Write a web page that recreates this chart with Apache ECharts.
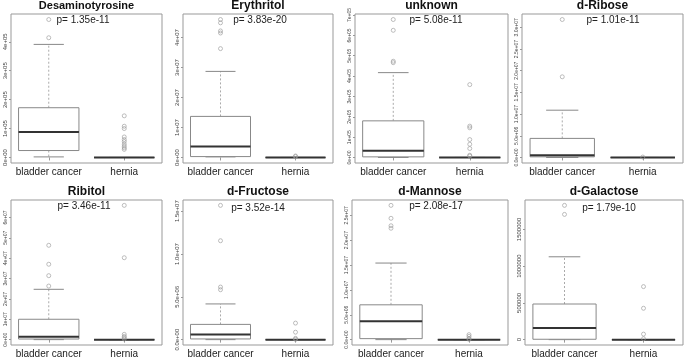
<!DOCTYPE html>
<html>
<head>
<meta charset="utf-8">
<script src="https://cdn.jsdelivr.net/npm/echarts@6/dist/echarts.min.js"></script>
<style>
  html, body { margin: 0; padding: 0; background: #fff; }
  #chart { width: 685px; height: 359px; }
</style>
</head>
<body>
<div id="chart"></div>
<script>
// data
const groups = ['bladder cancer', 'hernia']
const names = ['Desaminotyrosine', 'Erythritol', 'unknown', 'd-Ribose', 'Ribitol', 'd-Fructose', 'd-Mannose', 'd-Galactose']
const pValues = ['1.35e-11', '3.83e-20', '5.08e-11', '1.01e-11', '3.46e-11', '3.52e-14', '2.08e-17', '1.79e-10']

// [min, Q1, median, Q3, max]
const cancerBoxes = [
  [2e3, 0.24e5, 0.88e5, 1.72e5, 3.91e5],
  [0.02e7, 0.03e7, 0.37e7, 1.37e7, 2.87e7],
  [0, 0.03e5, 0.33e5, 1.8e5, 4.17e5],
  [0, 0.015e7, 0.054e7, 0.44e7, 1.09e7],
  [0, 0.03e7, 0.14e7, 1.0e7, 2.47e7],
  [0, 0.008e7, 0.06e7, 0.178e7, 0.417e7],
  [0, 0.02e7, 0.37e7, 0.7e7, 1.54e7],
  [0, 5e3, 1.59e5, 4.85e5, 1.128e6]
]
const herniaBoxes = [
  [0, 0, 0, 0, 0],
  [0, 0, 0, 0, 0],
  [0, 0, 0, 0, 0],
  [0, 0, 0, 0, 0],
  [0, 0, 0, 0, 0],
  [0, 0, 0, 0, 0],
  [0, 0, 0, 0, 0],
  [0, 0, 0, 0, 0]
]
const cancerOutliers = [
  [4.14e5, 4.77e5],
  [3.63e7, 4.15e7, 4.22e7, 4.49e7, 4.6e7],
  [4.66e5, 4.73e5, 6.25e5, 6.78e5],
  [1.86e7, 3.18e7],
  [2.63e7, 3.14e7, 3.7e7, 4.63e7],
  [0.583e7, 0.614e7, 1.155e7, 1.568e7],
  [2.24e7, 2.29e7, 2.44e7, 2.7e7],
  [1.705e6, 1.828e6]
]
const herniaOutliers = [
  [1.44e5, 1.08e5, 1.0e5, 0.71e5, 0.62e5, 0.55e5, 0.46e5, 0.39e5, 0.33e5, 0.28e5],
  [0.05e7, 0.03e7],
  [3.58e5, 1.54e5, 1.46e5, 0.88e5, 0.65e5, 0.44e5, 0.11e5, 0.07e5],
  [0.01e7],
  [6.59e7, 4.02e7, 0.26e7, 0.16e7, 0.1e7, 0.03e7],
  [0.193e7, 0.087e7, 0.015e7, 0.004e7],
  [0.1e7, 0.065e7, 0.026e7, 0.005e7],
  [7.22e5, 4.27e5, 7.5e4, 1.3e4]
]
// y tick labels as printed by R
const yTickLabels = [
  ['0e+00', '1e+05', '2e+05', '3e+05', '4e+05'],
  ['0e+00', '1e+07', '2e+07', '3e+07', '4e+07'],
  ['0e+00', '1e+05', '2e+05', '3e+05', '4e+05', '5e+05', '6e+05', '7e+05'],
  ['0.0e+00', '5.0e+06', '1.0e+07', '1.5e+07', '2.0e+07', '2.5e+07', '3.0e+07'],
  ['0e+00', '1e+07', '2e+07', '3e+07', '4e+07', '5e+07', '6e+07'],
  ['0.0e+00', '5.0e+06', '1.0e+07', '1.5e+07'],
  ['0.0e+00', '5.0e+06', '1.0e+07', '1.5e+07', '2.0e+07', '2.5e+07'],
  ['0', '500000', '1000000', '1500000']
]

// panel frames: left, top, width, height
const frames = [
  [11, 14, 151, 149], [183, 14, 150, 149], [355, 14, 153, 149], [522, 14, 161, 149],
  [11, 200, 151, 145], [183, 200, 150, 145], [352, 200, 156, 145], [525, 200, 158, 145]
]
const pPos = [[83, 20], [260, 20], [436, 20], [613, 20], [84, 206], [258, 208], [436, 206], [609, 208]]
const yFont = [6, 6, 5, 5, 5, 6, 5, 6]
const titleFont = [11, 12, 12, 12, 12, 12, 12, 12]
const FONT = 'Liberation Sans'

const chart = echarts.init(document.getElementById('chart'))

// R style box: dashed whiskers, half-width staples, thick median
function renderBox(params, api) {
  const i = api.value(0)
  const half = api.size([1, 0])[0] * 0.4
  const pMin = api.coord([i, api.value(1)])
  const pQ1 = api.coord([i, api.value(2)])
  const pMed = api.coord([i, api.value(3)])
  const pQ3 = api.coord([i, api.value(4)])
  const pMax = api.coord([i, api.value(5)])
  const x = pMed[0]
  const thin = { stroke: '#888', lineWidth: 1 }
  const dash = { stroke: '#aaa', lineWidth: 1, lineDash: [2, 2] }
  return {
    type: 'group',
    children: [
      { type: 'line', shape: { x1: x, y1: pQ3[1], x2: x, y2: pMax[1] }, style: dash },
      { type: 'line', shape: { x1: x, y1: pQ1[1], x2: x, y2: pMin[1] }, style: dash },
      { type: 'line', shape: { x1: x - half / 2, y1: pMax[1], x2: x + half / 2, y2: pMax[1] }, style: thin },
      { type: 'line', shape: { x1: x - half / 2, y1: pMin[1], x2: x + half / 2, y2: pMin[1] }, style: thin },
      { type: 'rect', shape: { x: x - half, y: pQ3[1], width: half * 2, height: pQ1[1] - pQ3[1] }, style: { fill: '#fff', stroke: '#888', lineWidth: 1 } },
      { type: 'line', shape: { x1: x - half, y1: pMed[1], x2: x + half, y2: pMed[1] }, style: { stroke: '#333', lineWidth: 2 } }
    ]
  }
}

const grid = [], xAxis = [], yAxis = [], series = [], title = []

names.forEach((name, k) => {
  const f = frames[k]
  const all = cancerBoxes[k].concat(herniaBoxes[k], cancerOutliers[k], herniaOutliers[k])
  const lo = Math.min(...all), hi = Math.max(...all)
  const pad = (hi - lo) * 0.04
  const ticks = yTickLabels[k].map(Number)

  grid.push({ left: f[0], top: f[1], width: f[2], height: f[3], show: true, borderColor: '#999', borderWidth: 1, backgroundColor: 'transparent' })
  xAxis.push({
    gridIndex: k, type: 'category', data: groups,
    axisLine: { show: false },
    axisTick: { show: true, alignWithLabel: true, length: 3, lineStyle: { color: '#999' } },
    axisLabel: { interval: 0, fontFamily: FONT, fontSize: 10, color: '#222', margin: 4 }
  })
  yAxis.push({
    gridIndex: k, type: 'value', min: lo - pad, max: hi + pad,
    splitLine: { show: false },
    axisLine: { show: false },
    axisTick: { show: true, length: 2, lineStyle: { color: '#999' }, customValues: ticks },
    axisLabel: {
      rotate: 90, fontFamily: FONT, fontSize: yFont[k], color: '#444', margin: 3,
      customValues: ticks,
      formatter: v => yTickLabels[k][ticks.indexOf(v)] || ''
    }
  })
  series.push({
    type: 'custom', xAxisIndex: k, yAxisIndex: k, renderItem: renderBox,
    encode: { x: 0, y: [1, 2, 3, 4, 5] },
    data: [[0].concat(cancerBoxes[k]), [1].concat(herniaBoxes[k])]
  })
  series.push({
    type: 'scatter', xAxisIndex: k, yAxisIndex: k, symbol: 'circle', symbolSize: 4,
    itemStyle: { color: 'rgba(0,0,0,0)', borderColor: '#999', borderWidth: 0.8 },
    data: cancerOutliers[k].map(v => [0, v]).concat(herniaOutliers[k].map(v => [1, v]))
  })
  title.push({
    text: name, left: f[0] + f[2] / 2, top: f[1] - 14, textAlign: 'center', padding: 0,
    textStyle: { fontFamily: FONT, fontSize: titleFont[k], fontWeight: 'bold', color: '#111' }
  })
  title.push({
    text: 'p= ' + pValues[k], left: pPos[k][0], top: pPos[k][1] - 5, textAlign: 'center', padding: 0,
    textStyle: { fontFamily: FONT, fontSize: 10, fontWeight: 'normal', color: '#222' }
  })
})

chart.setOption({
  animation: false,
  backgroundColor: '#fff',
  title: title,
  grid: grid,
  xAxis: xAxis,
  yAxis: yAxis,
  series: series
})
</script>
</body>
</html>
